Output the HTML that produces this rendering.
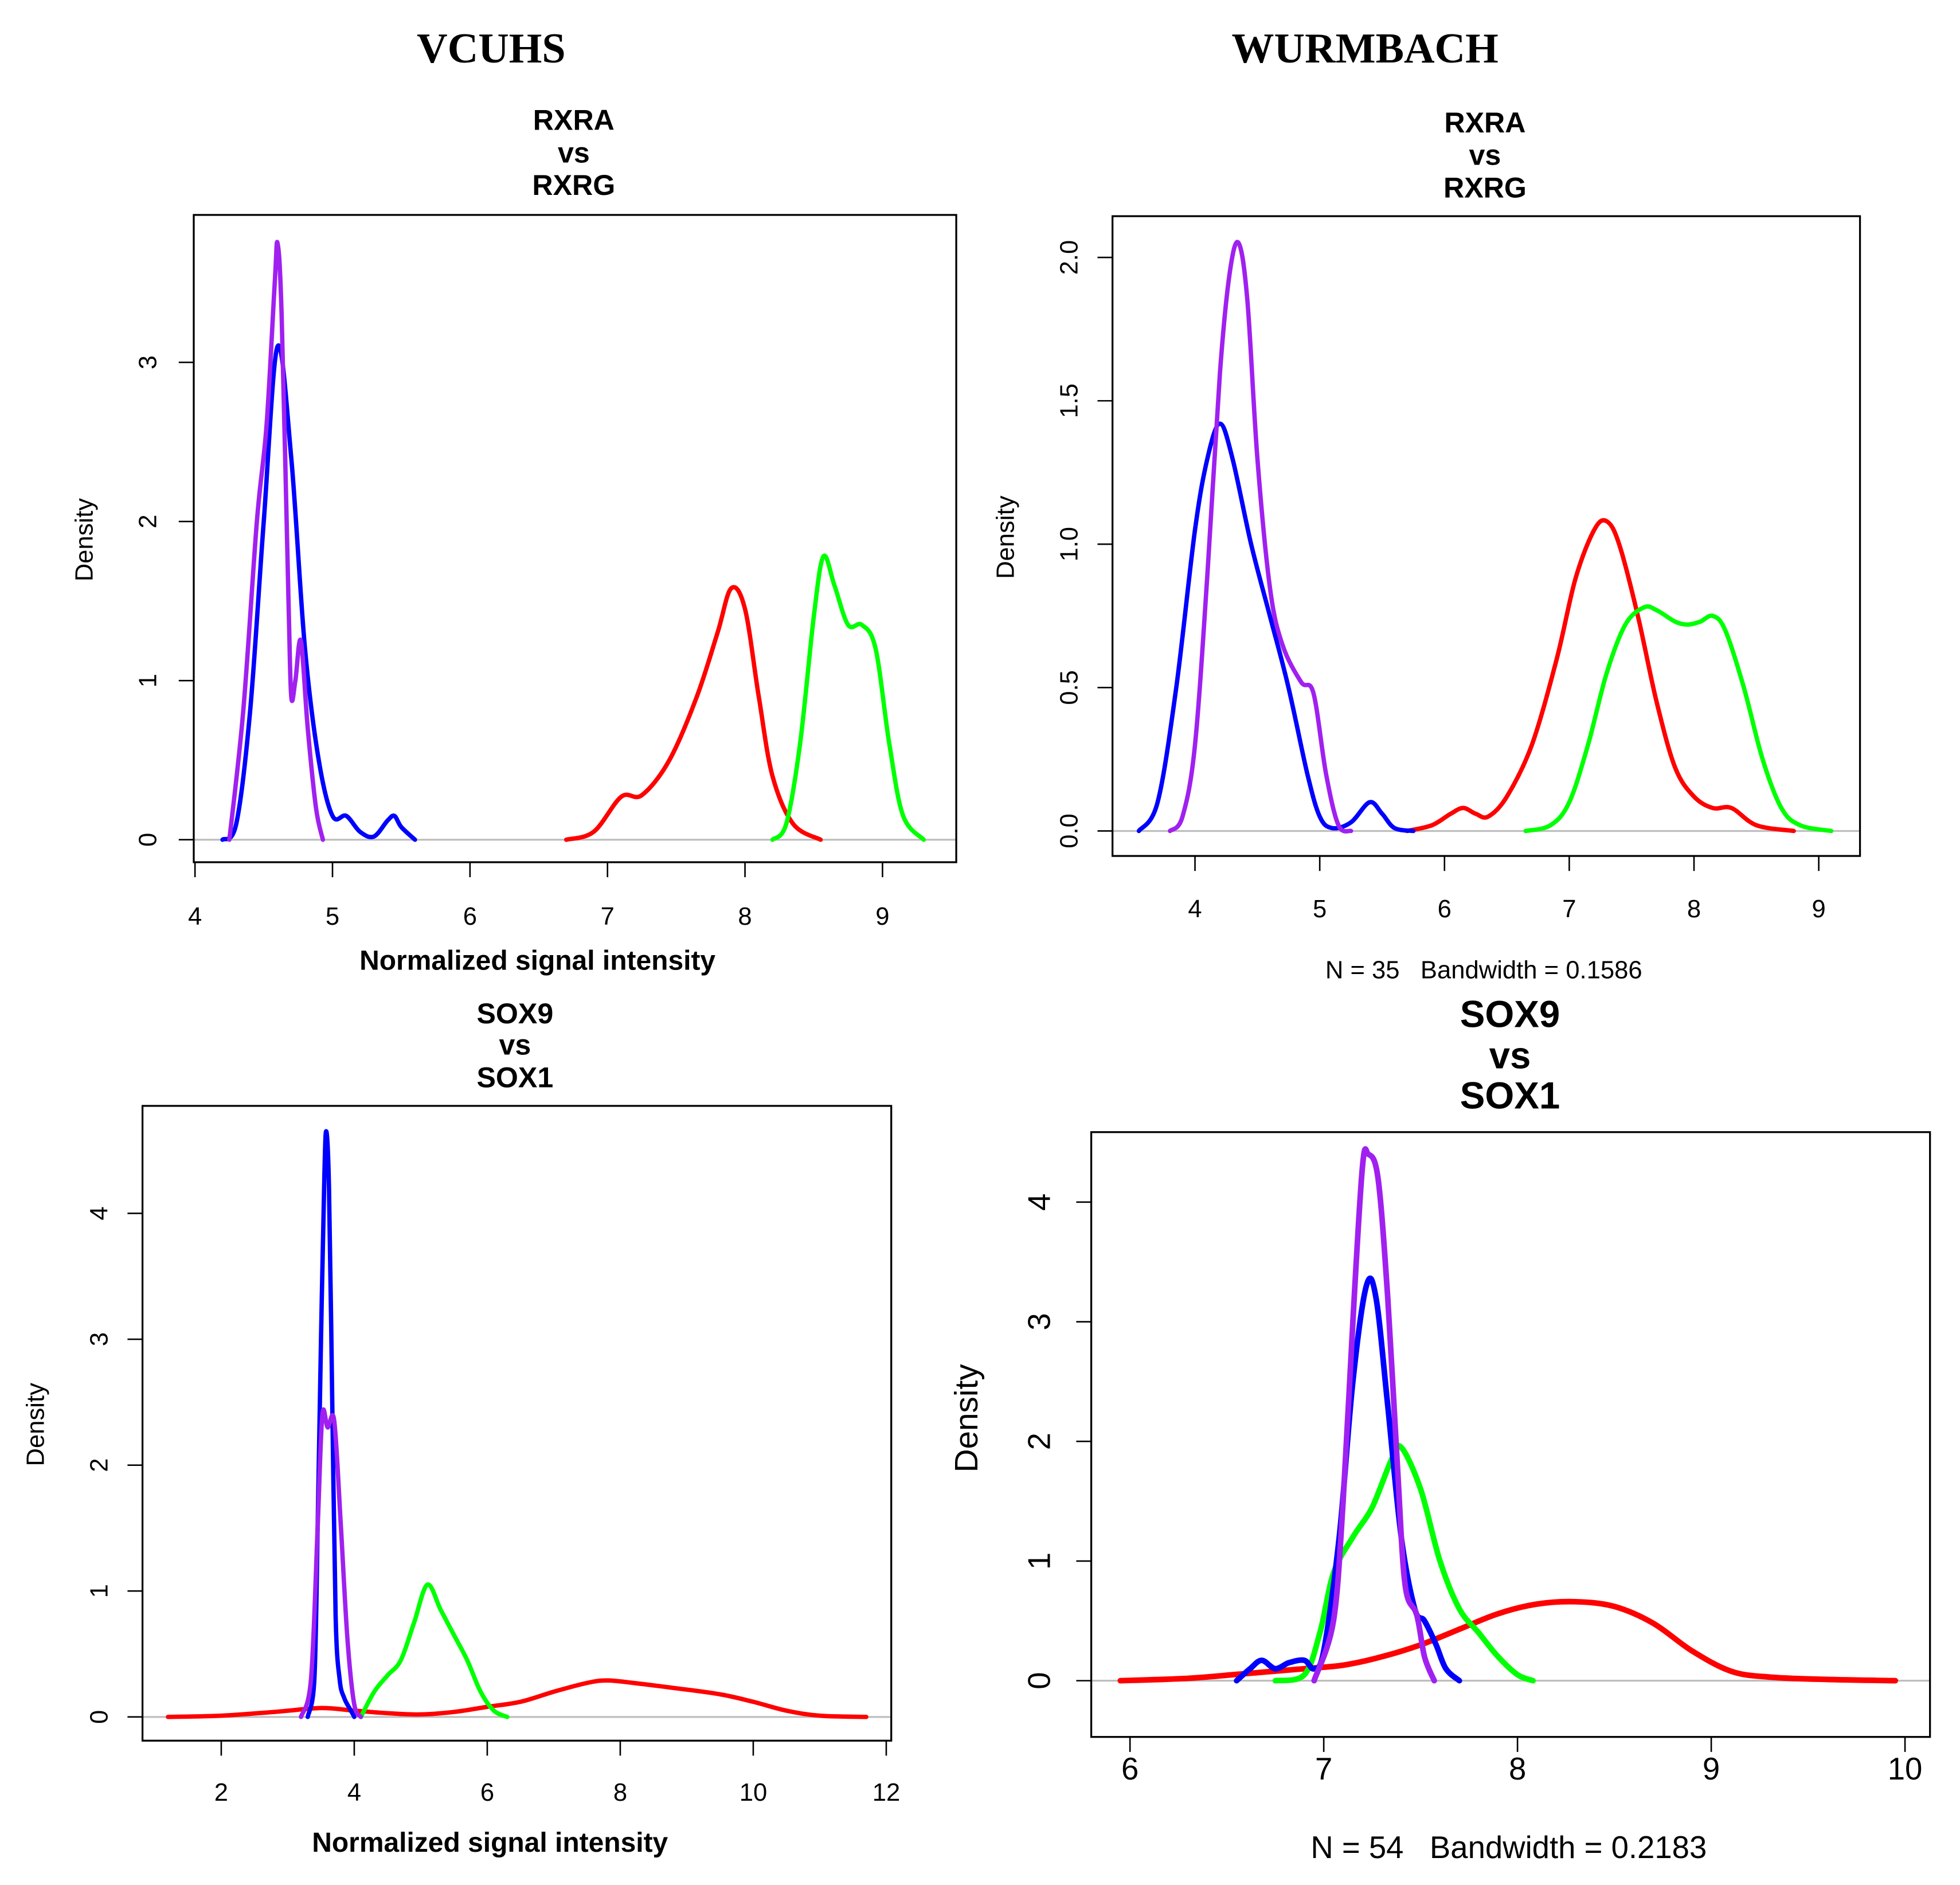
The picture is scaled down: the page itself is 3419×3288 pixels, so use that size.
<!DOCTYPE html>
<html><head><meta charset="utf-8"><style>
html,body{margin:0;padding:0;background:#fff;width:3419px;height:3288px;overflow:hidden}
svg{display:block}
</style></head><body>
<svg id="chart" width="3419" height="3288" viewBox="0 0 1568 1508.5" preserveAspectRatio="none" xmlns="http://www.w3.org/2000/svg">
<rect width="1568" height="1508.5" fill="#fff"/>
<text x="393" y="50" font-family="Liberation Serif, serif" font-weight="bold" font-size="34" text-anchor="middle">VCUHS</text>
<text x="1092" y="50" font-family="Liberation Serif, serif" font-weight="bold" font-size="34" text-anchor="middle">WURMBACH</text>
</svg>
<script>
// Panel 1: VCUHS RXRA vs RXRG
const p1BlueX=[4.2,4.3,4.4,4.5,4.6,4.7,4.8,4.9,5.0,5.1,5.2,5.3,5.4,5.45,5.5,5.6];
const p1BlueY=[0,0.1,0.8,2.0,3.1,2.4,1.2,0.5,0.15,0.15,0.05,0.02,0.12,0.15,0.08,0];
const p1PurpleX=[4.25,4.35,4.45,4.52,4.58,4.6,4.63,4.68,4.7,4.73,4.77,4.82,4.88,4.93];
const p1PurpleY=[0,0.8,2.0,2.6,3.5,3.75,3.3,1.5,0.9,1.0,1.25,0.7,0.2,0];
const p1RedX=[6.7,6.9,7.1,7.25,7.45,7.65,7.8,7.9,8.0,8.1,8.2,8.35,8.55];
const p1RedY=[0,0.05,0.27,0.28,0.5,0.9,1.3,1.58,1.45,0.9,0.4,0.1,0];
const p1GreenX=[8.2,8.3,8.4,8.5,8.57,8.65,8.75,8.85,8.95,9.05,9.15,9.3];
const p1GreenY=[0,0.1,0.6,1.4,1.78,1.6,1.35,1.35,1.2,0.6,0.15,0];
const p1XTicks=[4,5,6,7,8,9];
const p1YTicks=[0,1,2,3];
// Panel 2: WURMBACH RXRA vs RXRG
const p2BlueX=[3.55,3.7,3.85,4.0,4.1,4.2,4.3,4.45,4.6,4.75,4.9,5.0,5.1,5.25,5.4,5.5,5.6,5.75];
const p2BlueY=[0,0.1,0.5,1.05,1.3,1.42,1.3,1.0,0.75,0.5,0.2,0.05,0.01,0.03,0.1,0.06,0.01,0];
const p2PurpleX=[3.8,3.9,4.0,4.1,4.2,4.28,4.35,4.42,4.5,4.6,4.7,4.85,4.95,5.05,5.15,5.25];
const p2PurpleY=[0,0.05,0.3,0.9,1.6,1.95,2.05,1.85,1.3,0.85,0.65,0.52,0.48,0.2,0.02,0];
const p2RedX=[5.7,5.9,6.05,6.15,6.25,6.35,6.5,6.7,6.9,7.05,7.2,7.3,7.4,7.55,7.7,7.85,8.0,8.15,8.3,8.5,8.8];
const p2RedY=[0,0.02,0.06,0.08,0.06,0.05,0.12,0.3,0.6,0.88,1.05,1.08,1.0,0.75,0.45,0.22,0.12,0.08,0.08,0.02,0];
const p2GreenX=[6.65,6.85,7.0,7.15,7.3,7.45,7.6,7.7,7.85,7.95,8.05,8.15,8.25,8.4,8.55,8.7,8.85,9.1];
const p2GreenY=[0,0.02,0.1,0.3,0.55,0.72,0.78,0.77,0.73,0.72,0.73,0.75,0.7,0.5,0.25,0.08,0.02,0];
const p2XTicks=[4,5,6,7,8,9];
const p2YTicks=[0,0.5,1,1.5,2];
const p2YLabels=["0.0","0.5","1.0","1.5","2.0"];
// Panel 3: VCUHS SOX9 vs SOX1
const p3BlueX=[3.3,3.4,3.45,3.5,3.55,3.58,3.62,3.67,3.72,3.78,3.85,3.95,4.0];
const p3BlueY=[0,0.3,1.5,3.0,4.3,4.65,4.2,2.5,0.8,0.3,0.15,0.05,0];
const p3PurpleX=[3.2,3.35,3.45,3.52,3.6,3.7,3.8,3.9,4.0,4.1];
const p3PurpleY=[0,0.3,1.5,2.4,2.3,2.35,1.5,0.6,0.1,0];
const p3GreenX=[4.1,4.3,4.5,4.7,4.9,5.1,5.3,5.5,5.7,5.9,6.1,6.3];
const p3GreenY=[0,0.2,0.33,0.45,0.75,1.05,0.85,0.65,0.45,0.2,0.05,0];
const p3RedX=[1.2,2.0,2.8,3.5,4.0,4.5,5.0,5.5,6.0,6.5,7.0,7.5,7.8,8.2,8.8,9.5,10.0,10.5,11.0,11.7];
const p3RedY=[0,0.01,0.04,0.07,0.05,0.03,0.02,0.04,0.08,0.12,0.2,0.27,0.29,0.27,0.23,0.18,0.12,0.05,0.01,0];
const p3XTicks=[2,4,6,8,10,12];
const p3YTicks=[0,1,2,3,4];
// Panel 4: WURMBACH SOX9 vs SOX1
const p4PurpleX=[6.95,7.05,7.1,7.15,7.2,7.23,7.28,7.33,7.38,7.42,7.48,7.52,7.57];
const p4PurpleY=[0,0.5,1.5,3.0,4.3,4.4,4.2,3.2,1.8,0.8,0.55,0.2,0];
const p4BlueX=[6.55,6.62,6.68,6.75,6.82,6.9,6.95,7.0,7.08,7.15,7.22,7.27,7.33,7.4,7.47,7.52,7.58,7.63,7.7];
const p4BlueY=[0,0.1,0.17,0.1,0.15,0.17,0.1,0.25,1.2,2.5,3.3,3.2,2.3,1.2,0.6,0.5,0.3,0.1,0];
const p4GreenX=[6.75,6.9,6.98,7.05,7.15,7.25,7.35,7.4,7.5,7.6,7.7,7.8,7.9,8.0,8.08];
const p4GreenY=[0,0.05,0.4,0.9,1.2,1.45,1.85,1.95,1.6,1.0,0.6,0.4,0.2,0.05,0];
const p4RedX=[5.95,6.3,6.6,6.9,7.1,7.3,7.5,7.7,7.9,8.1,8.3,8.5,8.7,8.9,9.1,9.3,9.6,9.95];
const p4RedY=[0,0.02,0.06,0.1,0.13,0.2,0.3,0.43,0.56,0.64,0.66,0.62,0.48,0.25,0.08,0.03,0.01,0];
const p4XTicks=[6,7,8,9,10];
const p4YTicks=[0,1,2,3,4];

const NS='http://www.w3.org/2000/svg';
const svgRoot=document.getElementById('chart');
function mk(tag,attrs,parent){const e=document.createElementNS(NS,tag);for(const k in attrs)e.setAttribute(k,attrs[k]);(parent||svgRoot).appendChild(e);return e;}
function smoothPath(P){
  let d='M'+P[0][0].toFixed(1)+','+P[0][1].toFixed(1);
  for(let i=0;i<P.length-1;i++){
    const p0=P[Math.max(0,i-1)],p1=P[i],p2=P[i+1],p3=P[Math.min(P.length-1,i+2)];
    const c1=[p1[0]+(p2[0]-p0[0])/6,p1[1]+(p2[1]-p0[1])/6];
    const c2=[p2[0]-(p3[0]-p1[0])/6,p2[1]-(p3[1]-p1[1])/6];
    d+=` C${c1[0].toFixed(1)},${c1[1].toFixed(1)} ${c2[0].toFixed(1)},${c2[1].toFixed(1)} ${p2[0].toFixed(1)},${p2[1].toFixed(1)}`;
  }
  return d;
}

function panel(cfg){
  const g=mk('g',{});
  
  
  const sx=v=>cfg.x0px+(v-cfg.x0)*(cfg.x1px-cfg.x0px)/(cfg.x1-cfg.x0);
  const sy=v=>cfg.y0px+(v-cfg.y0)*(cfg.y1px-cfg.y0px)/(cfg.y1-cfg.y0);
  const fs=cfg.fs;
  cfg.title.forEach((t,i)=>{const e=mk('text',{x:cfg.tx,y:cfg.ty[i],'font-family':'Liberation Sans, sans-serif','font-weight':'bold','font-size':cfg.tfs,'text-anchor':'middle'},g);e.textContent=t;
    
    });
  const bl=mk('line',{x1:cfg.bx,x2:cfg.bx+cfg.bw,y1:sy(0),y2:sy(0),stroke:'#bebebe','stroke-width':1.5},g);
  
  
  cfg.series.forEach(s=>{
    const P=s.xs.map((x,i)=>[sx(x),sy(s.ys[i])]);
    const p=mk('path',{d:smoothPath(P),fill:'none',stroke:s.color,'stroke-width':cfg.sw,'stroke-linejoin':'round','stroke-linecap':'round'},g);
    
    
  });
  const b=mk('rect',{x:cfg.bx,y:cfg.by,width:cfg.bw,height:cfg.bh,fill:'none',stroke:'#000','stroke-width':1.5},g);
  
  
  const by2=cfg.by+cfg.bh;
  const xl=mk('line',{x1:sx(cfg.xt[0]),x2:sx(cfg.xt[cfg.xt.length-1]),y1:by2,y2:by2,stroke:'#000','stroke-width':1.2},g);
  
  
  cfg.xt.forEach(v=>{
    mk('line',{x1:sx(v),x2:sx(v),y1:by2,y2:by2+12,stroke:'#000','stroke-width':1.2},g);
    const t=mk('text',{x:sx(v),y:cfg.xly,'font-family':'Liberation Sans, sans-serif','font-size':fs,'text-anchor':'middle'},g);
    t.textContent=v;
    
    
  });
  const yl=mk('line',{x1:cfg.bx,x2:cfg.bx,y1:sy(cfg.yt[0]),y2:sy(cfg.yt[cfg.yt.length-1]),stroke:'#000','stroke-width':1.2},g);
  
  
  cfg.yt.forEach((v,i)=>{
    mk('line',{x1:cfg.bx-12,x2:cfg.bx,y1:sy(v),y2:sy(v),stroke:'#000','stroke-width':1.2},g);
    const t=mk('text',{x:cfg.ylx,y:sy(v),'font-family':'Liberation Sans, sans-serif','font-size':fs,'text-anchor':'middle',transform:`rotate(-90 ${cfg.ylx} ${sy(v)})`},g);
    t.textContent=cfg.yl?cfg.yl[i]:v;
    
    
  });
  const d=mk('text',{x:cfg.dx,y:cfg.dy,'font-family':'Liberation Sans, sans-serif','font-size':cfg.dfs,'text-anchor':'middle',transform:`rotate(-90 ${cfg.dx} ${cfg.dy})`},g);
  d.textContent='Density';
  
  
  if(cfg.sub){const e=mk('text',{x:cfg.sub.x,y:cfg.sub.y,'font-family':cfg.sub.ff,'font-size':cfg.sub.fs,'font-weight':cfg.sub.fw||'normal','text-anchor':'middle'},g);
    e.textContent=cfg.sub.t;
    
    }
}
const sans='Liberation Sans, sans-serif';
panel({name:'vcuhs-rxra-panel',title:['RXRA','vs','RXRG'],x0:4,x1:9,x0px:156,x1px:706,y0:0,y1:3,y0px:672,y1px:290,
  bx:155,by:172,bw:610,bh:518,fs:20,tfs:23,tx:459,ty:[104,130,156],sw:3.5,xly:740,ylx:125,dx:74,dy:432,dfs:20,
  xt:p1XTicks,yt:p1YTicks,
  series:[{name:'red-curve',color:'#ff0000',xs:p1RedX,ys:p1RedY},{name:'green-curve',color:'#00ff00',xs:p1GreenX,ys:p1GreenY},{name:'blue-curve',color:'#0000ff',xs:p1BlueX,ys:p1BlueY},{name:'purple-curve',color:'#a020f0',xs:p1PurpleX,ys:p1PurpleY}],
  sub:{name:'x-axis-title',x:430,y:776,ff:sans,fs:22,fw:'bold',t:'Normalized signal intensity'}});
panel({name:'wurmbach-rxra-panel',title:['RXRA','vs','RXRG'],x0:4,x1:9,x0px:956,x1px:1455,y0:0,y1:2,y0px:665,y1px:206,
  bx:890,by:173,bw:598,bh:512,fs:20,tfs:23,tx:1188,ty:[106,132,158],sw:3.5,xly:734,ylx:862,dx:811,dy:430,dfs:20,
  xt:p2XTicks,yt:p2YTicks,yl:p2YLabels,
  series:[{name:'red-curve',color:'#ff0000',xs:p2RedX,ys:p2RedY},{name:'green-curve',color:'#00ff00',xs:p2GreenX,ys:p2GreenY},{name:'blue-curve',color:'#0000ff',xs:p2BlueX,ys:p2BlueY},{name:'purple-curve',color:'#a020f0',xs:p2PurpleX,ys:p2PurpleY}],
  sub:{name:'bandwidth-note',x:1187,y:783,ff:sans,fs:20,t:'N = 35\u00a0\u00a0 Bandwidth = 0.1586'}});
panel({name:'vcuhs-sox9-panel',title:['SOX9','vs','SOX1'],x0:2,x1:12,x0px:177,x1px:709,y0:0,y1:4,y0px:1374,y1px:971,
  bx:114,by:885,bw:599,bh:508,fs:20,tfs:23,tx:412,ty:[819,844,870],sw:3.5,xly:1441,ylx:86,dx:35,dy:1140,dfs:20,
  xt:p3XTicks,yt:p3YTicks,
  series:[{name:'red-curve',color:'#ff0000',xs:p3RedX,ys:p3RedY},{name:'green-curve',color:'#00ff00',xs:p3GreenX,ys:p3GreenY},{name:'blue-curve',color:'#0000ff',xs:p3BlueX,ys:p3BlueY},{name:'purple-curve',color:'#a020f0',xs:p3PurpleX,ys:p3PurpleY}],
  sub:{name:'x-axis-title',x:392,y:1482,ff:sans,fs:22,fw:'bold',t:'Normalized signal intensity'}});
panel({name:'wurmbach-sox9-panel',title:['SOX9','vs','SOX1'],x0:6,x1:10,x0px:904,x1px:1524,y0:0,y1:4,y0px:1345,y1px:962,
  bx:873,by:906,bw:671,bh:484,fs:25,tfs:30,tx:1208,ty:[822,855,887],sw:4.5,xly:1424,ylx:840,dx:782,dy:1135,dfs:26,
  xt:p4XTicks,yt:p4YTicks,
  series:[{name:'red-curve',color:'#ff0000',xs:p4RedX,ys:p4RedY},{name:'green-curve',color:'#00ff00',xs:p4GreenX,ys:p4GreenY},{name:'blue-curve',color:'#0000ff',xs:p4BlueX,ys:p4BlueY},{name:'purple-curve',color:'#a020f0',xs:p4PurpleX,ys:p4PurpleY}],
  sub:{name:'bandwidth-note',x:1207,y:1487,ff:sans,fs:25,t:'N = 54\u00a0\u00a0 Bandwidth = 0.2183'}});
</script>
</body></html>
